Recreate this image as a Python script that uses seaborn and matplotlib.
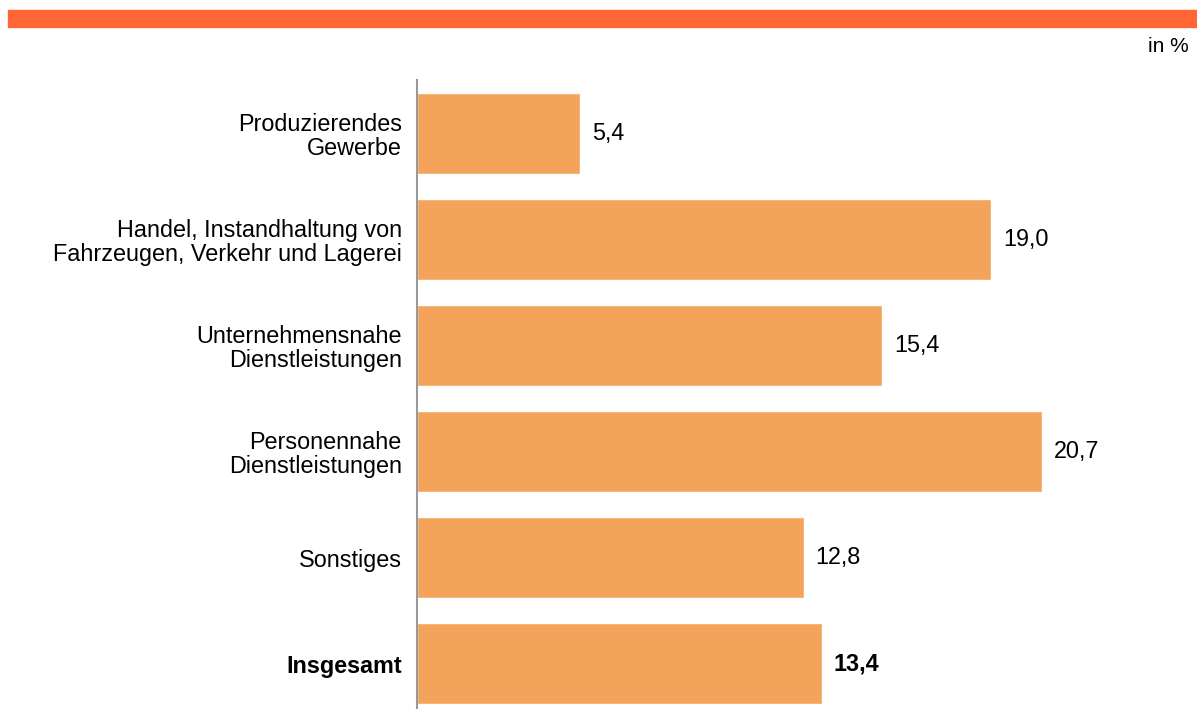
import matplotlib.pyplot as plt
import matplotlib.patches as mpatches
import pandas as pd
import seaborn as sns

categories = [
    "Produzierendes\nGewerbe",
    "Handel, Instandhaltung von\nFahrzeugen, Verkehr und Lagerei",
    "Unternehmensnahe\nDienstleistungen",
    "Personennahe\nDienstleistungen",
    "Sonstiges",
    "Insgesamt",
]
values = [5.4, 19.0, 15.4, 20.7, 12.8, 13.4]
value_labels = ["5,4", "19,0", "15,4", "20,7", "12,8", "13,4"]

df = pd.DataFrame({"Bereich": categories, "Anteil": values})

sns.set_style("white")
plt.rcParams["font.family"] = ["Liberation Sans", "DejaVu Sans"]
plt.rcParams["text.color"] = "black"
plt.rcParams["ytick.color"] = "black"

fs = 16.8

fig = plt.figure(figsize=(11.97, 7.09), dpi=100)
ax = fig.add_axes([417 / 1197, 0.0, 1 - 417 / 1197, 1 - 80 / 709])

sns.barplot(data=df, x="Anteil", y="Bereich", orient="h", color="#F4A35A",
            saturation=1, width=0.764, ax=ax)

ax.set_xlim(0, (1197 - 417) / 30.2)
ax.set_ylim(5.429, -0.505)
ax.set_xlabel("")
ax.set_ylabel("")
ax.set_xticks([])
for side in ["top", "right", "bottom"]:
    ax.spines[side].set_visible(False)
ax.spines["left"].set_color("#999999")
ax.spines["left"].set_linewidth(1.5)
ax.tick_params(axis="y", length=0, pad=11, labelsize=fs, labelcolor="black")

for lbl in ax.get_yticklabels():
    lbl.set_horizontalalignment("right")
    lbl.set_multialignment("right")
    lbl.set_linespacing(1.05)
    if lbl.get_text() == "Insgesamt":
        lbl.set_fontweight("bold")

for i, (v, t) in enumerate(zip(values, value_labels)):
    ax.text(v + 0.4, i, t, va="center", ha="left", fontsize=fs, color="black",
            fontweight="bold" if categories[i] == "Insgesamt" else "normal")

# orange header strip and unit note
fig.patches.append(mpatches.Rectangle((8 / 1197, 1 - 27 / 709), 1, 17 / 709,
                                      transform=fig.transFigure,
                                      color="#FF6633", zorder=0))
fig.text(1189 / 1197, 1 - 47 / 709, "in %", ha="right", va="center",
         fontsize=15, color="black")

plt.savefig("out.png", dpi=100)
